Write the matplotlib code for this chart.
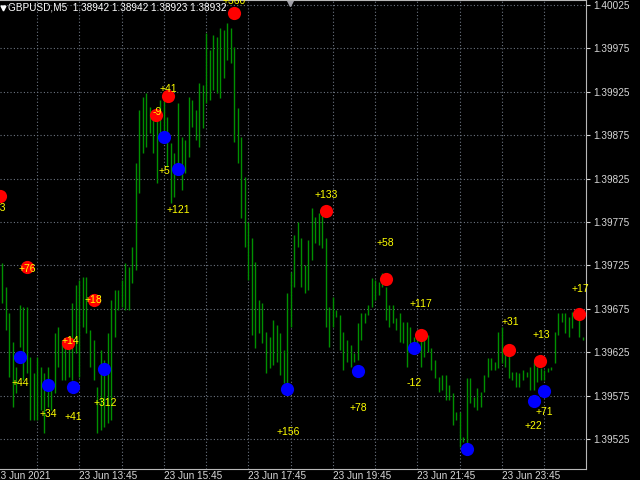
import numpy as np
import matplotlib
matplotlib.use("Agg")
import matplotlib.pyplot as plt
import matplotlib.transforms as mtransforms

# GBPUSD M5 bars, prices in points (1e-5)
high = [139728, 139700, 139670, 139637, 139608, 139679, 139677, 139677, 139619, 139601,
        139619, 139608, 139601, 139608, 139585, 139647, 139654, 139639, 139631, 139642,
        139682, 139702, 139708, 139712, 139712, 139651, 139639, 139585, 139628, 139616,
        139647, 139685, 139697, 139697, 139708, 139728, 139723, 139746, 139843, 139904,
        139919, 139924, 139908, 139901, 139893, 139916, 139916, 139896, 139866, 139855,
        139912, 139873, 139870, 139919, 139916, 139904, 139935, 139933, 139993, 139973,
        139990, 139988, 139998, 139996, 140004, 139998, 139977, 139906, 139873, 139827,
        139775, 139757, 139729, 139685, 139682, 139648, 139642, 139662, 139656, 139647,
        139628, 139693, 139717, 139760, 139775, 139757, 139726, 139754, 139791, 139781,
        139785, 139783, 139757, 139677, 139689, 139674, 139668, 139648, 139639, 139633,
        139624, 139659, 139670, 139670, 139679, 139711, 139708, 139706, 139716, 139700,
        139679, 139679, 139664, 139670, 139660, 139660, 139654, 139642, 139651, 139639,
        139645, 139645, 139630, 139616, 139596, 139599, 139599, 139587, 139578, 139556,
        139556, 139527, 139595, 139595, 139573, 139584, 139579, 139599, 139618, 139618,
        139614, 139648, 139654, 139624, 139628, 139602, 139602, 139601, 139605, 139602,
        139608, 139614, 139608, 139607, 139605, 139607, 139608, 139648, 139670, 139670,
        139670, 139666, 139671, 139674, 139664, 139642]
low = [139682, 139651, 139596, 139562, 139578, 139631, 139593, 139601, 139547, 139547,
       139547, 139558, 139532, 139562, 139558, 139578, 139608, 139593, 139593, 139596,
       139593, 139624, 139596, 139654, 139647, 139608, 139593, 139532, 139535, 139539,
       139543, 139547, 139642, 139674, 139677, 139674, 139674, 139705, 139720, 139808,
       139855, 139861, 139878, 139855, 139820, 139870, 139878, 139838, 139797, 139804,
       139838, 139812, 139831, 139850, 139884, 139870, 139861, 139883, 139912, 139916,
       139927, 139924, 139918, 139941, 139962, 139958, 139867, 139843, 139780, 139746,
       139708, 139645, 139630, 139647, 139636, 139601, 139607, 139610, 139614, 139599,
       139590, 139587, 139654, 139700, 139746, 139700, 139693, 139697, 139731, 139751,
       139749, 139745, 139654, 139631, 139654, 139666, 139628, 139605, 139614, 139608,
       139614, 139616, 139639, 139659, 139668, 139677, 139685, 139691, 139700, 139662,
       139654, 139659, 139651, 139637, 139636, 139608, 139628, 139624, 139631, 139608,
       139619, 139625, 139605, 139595, 139579, 139581, 139570, 139570, 139541, 139547,
       139516, 139522, 139520, 139567, 139562, 139558, 139562, 139579, 139596, 139605,
       139605, 139607, 139613, 139608, 139595, 139593, 139585, 139585, 139593, 139596,
       139581, 139581, 139591, 139593, 139593, 139602, 139605, 139613, 139645, 139660,
       139647, 139642, 139653, 139664, 139642, 139639]

# signal dots (bar index, price points)
red_bar = [-0.6, 7.1, 26.1, 18.8, 43.8, 47.2, 65.9, 92, 109, 119, 144, 152.8, 163.9]
red_px = [139805, 139723, 139685, 139636, 139898, 139920, 140016, 139788, 139709,
          139645, 139628, 139615, 139669]
blue_bar = [5.1, 13.1, 20.2, 29, 46, 50, 81, 101.1, 117, 132, 151, 154]
blue_px = [139620, 139587, 139585, 139606, 139873, 139836, 139583, 139603, 139630,
           139514, 139569, 139580]

# profit labels
lbl_text = ["+43", "+76", "+18", "+14", "-9", "+41", "+360", "+133", "+58", "+117",
            "+17", "+31", "+13", "+44", "+34", "+41", "+312", "+5", "+121", "+156",
            "+78", "-12", "+22", "+71"]
lbl_bar = [-1.4, 7.1, 26.1, 19.3, 44, 47.2, 65.9, 92, 109, 119,
           164.3, 144.3, 153.1, 5.1, 13.1, 20.2, 29.3, 46, 50, 81.2,
           101.1, 117, 151, 154]
lbl_px = [139791, 139721, 139685, 139638, 139902, 139928, 140030, 139806, 139751, 139681,
          139698, 139660, 139645, 139590, 139554, 139550, 139567, 139834, 139789, 139533,
          139561, 139590, 139540, 139556]

time_bar = [-2, 22, 46, 70, 94, 118, 142]
time_lbl = ["23 Jun 2021", "23 Jun 13:45", "23 Jun 15:45", "23 Jun 17:45",
            "23 Jun 19:45", "23 Jun 21:45", "23 Jun 23:45"]
grid_bar = list(range(10, 166, 12))
price_ticks = [1.39525, 1.39575, 1.39625, 1.39675, 1.39725, 1.39775, 1.39825,
               1.39875, 1.39925, 1.39975, 1.40025]

plt.rcParams['font.family'] = ['Liberation Sans', 'DejaVu Sans']

fig = plt.figure(figsize=(6.4, 4.8), dpi=100, facecolor='black')
ax = fig.add_axes([0, 11 / 480, 586 / 640, 469 / 480], facecolor='black')

bars = np.arange(len(high))
ax.vlines(bars, np.array(low) / 1e5, np.array(high) / 1e5, color='#009000', linewidth=1.0, zorder=2)

ax.scatter(red_bar, np.array(red_px) / 1e5, s=90, color='#ff0000', zorder=3, linewidths=0)
ax.scatter(blue_bar, np.array(blue_px) / 1e5, s=90, color='#0000ff', zorder=3, linewidths=0)

for t, b, p in zip(lbl_text, lbl_bar, lbl_px):
    ax.text(b, p / 1e5, t, color='#ffff00', fontsize=7.5, ha='center', va='center', zorder=4)

ax.set_xlim(-0.57, 165.9)
ax.set_ylim(1.394905, 1.400308)

ax.set_xticks(grid_bar)
ax.set_xticklabels([])
ax.tick_params(axis='x', length=0)
ax.yaxis.tick_right()
ax.set_yticks(price_ticks)
ax.set_yticklabels(["%.5f" % v for v in price_ticks])
ax.tick_params(axis='y', colors='#d8d8d8', labelsize=7.2, length=3, width=0.8, pad=2)
ax.grid(True, color='#6c7480', linestyle=(0, (1, 2)), linewidth=0.8, zorder=1)
ax.set_axisbelow(True)

for side in ['left']:
    ax.spines[side].set_visible(False)
for side in ['right', 'bottom', 'top']:
    ax.spines[side].set_color('#b8b8b8')
    ax.spines[side].set_linewidth(0.8)

trans = mtransforms.blended_transform_factory(ax.transData, ax.transAxes)
for b, t in zip(time_bar, time_lbl):
    ax.text(b, -0.004, t, transform=trans, color='#d8d8d8', fontsize=7.2,
            ha='left', va='top', clip_on=False)

ax.text(0.014, 0.983, "GBPUSD,M5  1.38942 1.38942 1.38923 1.38932", transform=ax.transAxes,
        color='white', fontsize=7.2, ha='left', va='center')
ax.plot([0.005], [0.984], marker='v', markersize=3.5, color='white', transform=ax.transAxes,
        clip_on=False, linewidth=0)
ax.plot([0.495], [0.998], marker='v', markersize=7, color='#a0a0a8', transform=ax.transAxes,
        clip_on=False, linewidth=0)

fig.savefig("out.png", dpi=100, facecolor='black')
